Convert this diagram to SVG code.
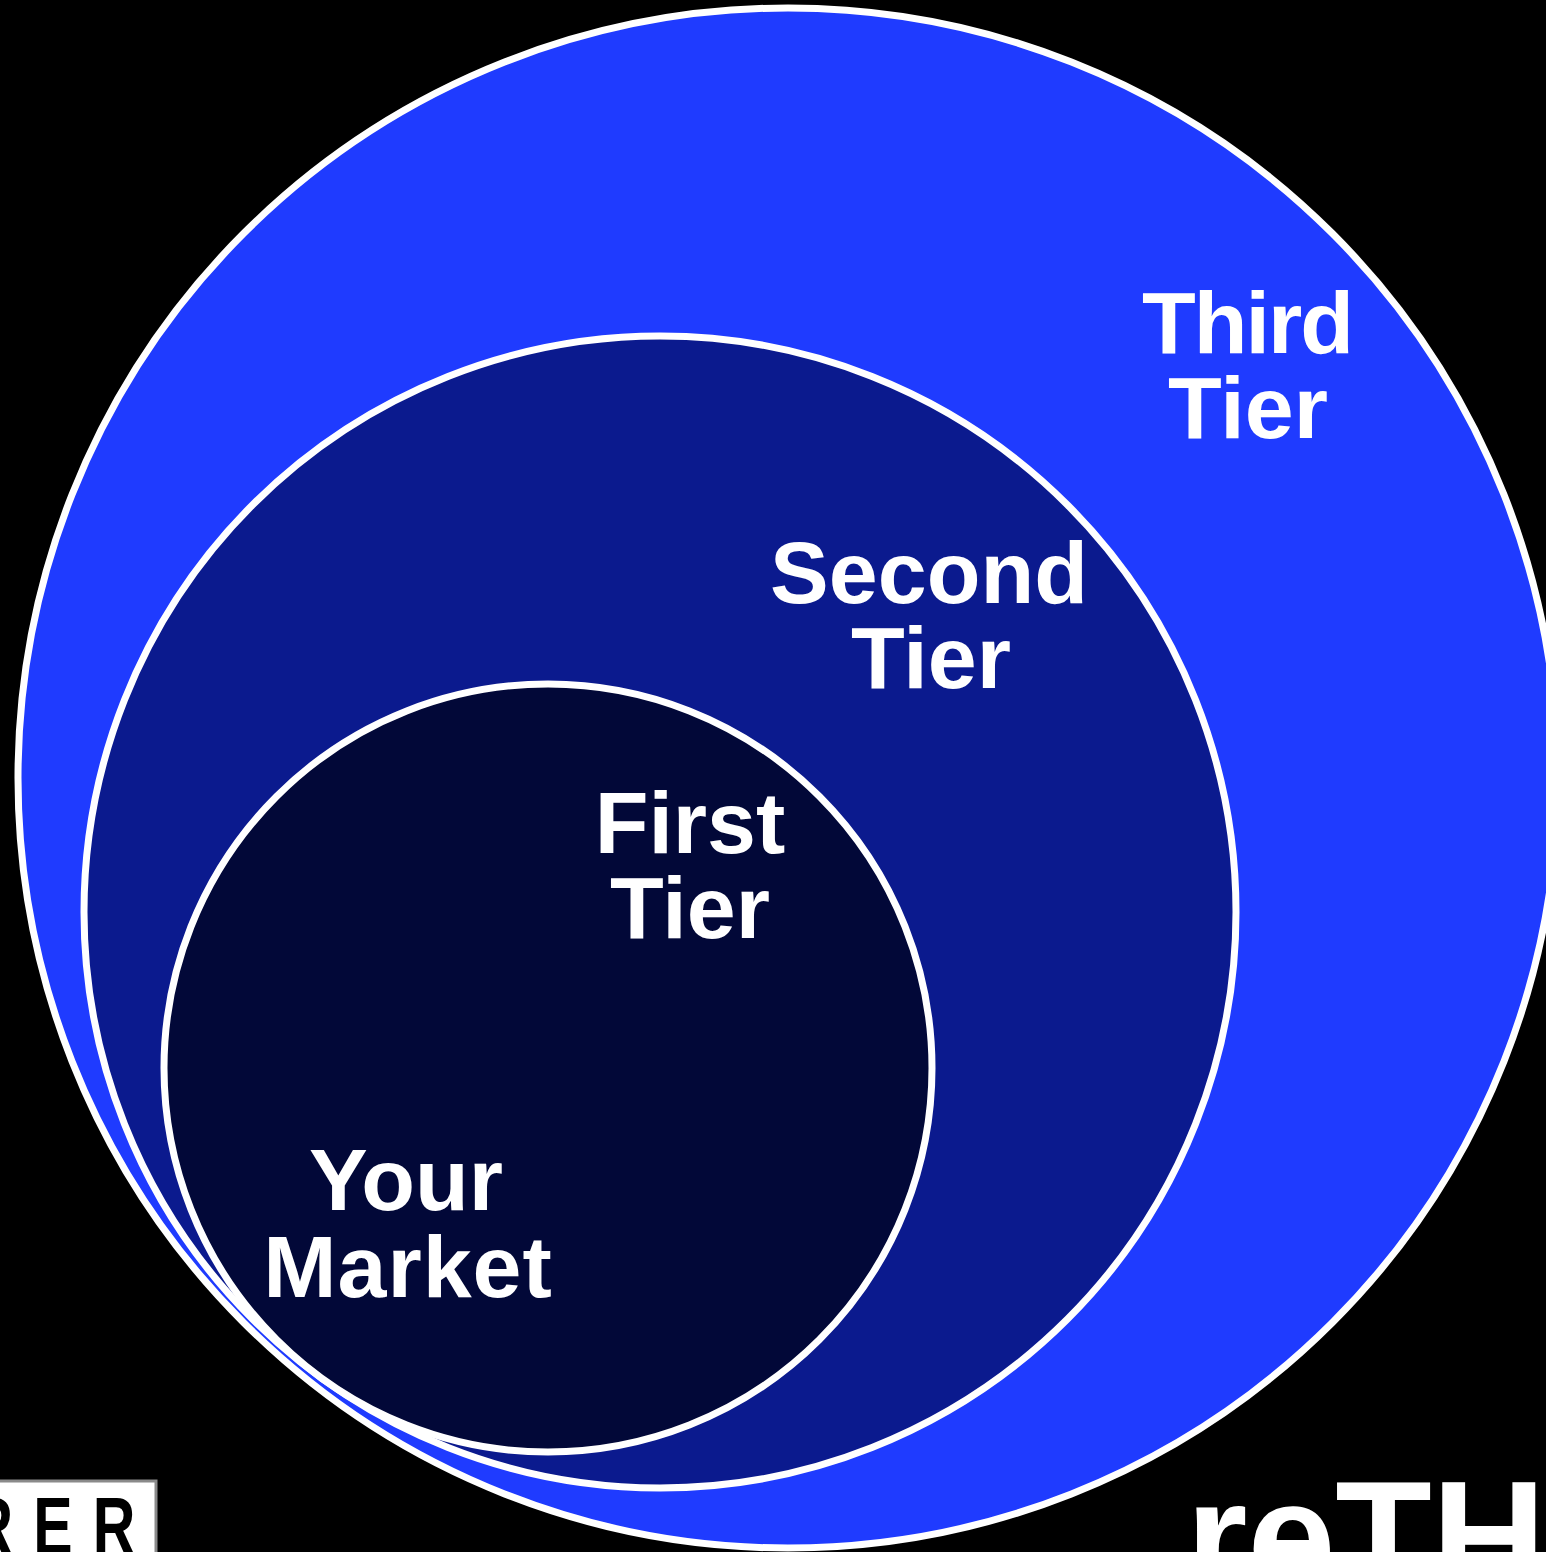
<svg xmlns="http://www.w3.org/2000/svg" width="1546" height="1552" viewBox="0 0 1546 1552">
<style>
.ring{stroke:#ffffff;stroke-width:7}
.lbl{font-family:"Liberation Sans",Arial,sans-serif;font-weight:bold;font-size:88px;fill:#ffffff;text-anchor:middle}
</style>
<rect x="0" y="0" width="1546" height="1552" fill="#000000"/>
<g id="third-tier">
<circle class="ring" cx="788" cy="778" r="770" fill="#1F3BFF"/>
<text class="lbl" x="1247" y="353" letter-spacing="-2">Third</text>
<text class="lbl" x="1248" y="438">Tier</text>
</g>
<g id="second-tier">
<circle class="ring" cx="660" cy="912" r="576" fill="#0B1A8E"/>
<text class="lbl" x="929" y="603">Second</text>
<text class="lbl" x="931" y="688">Tier</text>
</g>
<g id="first-tier">
<circle class="ring" cx="548" cy="1068" r="384" fill="#020838"/>
<text class="lbl" x="690" y="853">First</text>
<text class="lbl" x="690" y="938">Tier</text>
</g>
<g id="your-market">
<text class="lbl" x="406" y="1210">Your</text>
<text class="lbl" x="408" y="1297" letter-spacing="1">Market</text>
</g>
<g id="logo-left">
<rect x="-4" y="1481" width="160" height="80" fill="#ffffff" stroke="#8a8a8a" stroke-width="3"/>
<text x="-41" y="1554" transform="scale(0.72 1)" font-family="Liberation Sans,Arial,sans-serif" font-weight="bold" font-size="82" letter-spacing="28" fill="#000000">RER</text>
</g>
<g id="logo-right">
<text x="1186" y="1591" font-family="Liberation Sans,Arial,sans-serif" font-weight="bold" font-size="158" fill="#ffffff">reTH</text>
</g>
<g id="connectors"></g>
</svg>
